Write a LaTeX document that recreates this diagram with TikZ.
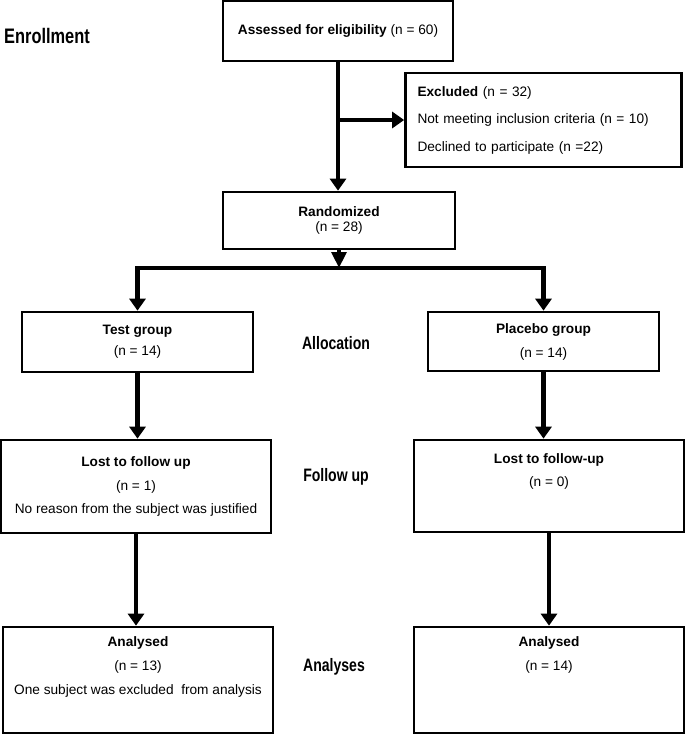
\documentclass[tikz,border=0pt]{standalone}
\usepackage{fontspec}
\setmainfont{Liberation Sans}
\newfontfamily\stagefont[FakeStretch=0.78]{Liberation Sans}
\usetikzlibrary{arrows.meta,positioning}
\begin{document}
\begin{tikzpicture}
  [x=0.75pt,y=-0.75pt,
   box/.style={draw,line width=2pt,rectangle,inner sep=0pt,align=center,
     minimum width=202.5pt,font=\fontsize{10.25}{17.6}\selectfont},
   txt/.style={inner sep=0pt,align=center,font=\fontsize{10.25}{18}\selectfont},
   stage/.style={inner sep=0pt,font=\stagefont\bfseries\fontsize{13.5}{16}\selectfont},
   flow/.style={line width=3.5pt,-{Triangle[width=12pt,length=9pt]}}]
  \useasboundingbox (0,0) rectangle (685,736);

  \node[stage,font=\stagefont\bfseries\fontsize{15.75}{18}\selectfont] (enrol) at (47,36) {Enrollment};
  \node[stage] (alloc) at (336,343) {Allocation};
  \node[stage] (follow) at (336,477) {Follow up};
  \node[stage] (analy) at (334,667) {Analyses};

  \node[box,minimum width=172.5pt,minimum height=45pt] (assess) at (338,31)
    {\textbf{Assessed for eligibility} (n = 60)};
  \node[box,align=left,text width=189pt,inner xsep=9pt,minimum height=70.5pt,
    font=\fontsize{10.25}{20.6}\selectfont] (excl) at (543.5,120)
    {\textbf{Excluded} (n = 32)\\ Not meeting inclusion criteria (n = 10)\\ Declined to participate (n =22)};
  \node[box,minimum width=174pt,minimum height=42.75pt,
    font=\fontsize{10.25}{11.5}\selectfont] (rand) at (339,220.5)
    {\textbf{Randomized}\\(n = 28)};

  \node[box,minimum width=173.25pt,minimum height=45pt,
    font=\fontsize{10.25}{15.75}\selectfont] (test) at (137.5,342)
    {\textbf{Test group}\\(n = 14)};
  \node[box,minimum width=173.25pt,minimum height=44.25pt,
    font=\fontsize{10.25}{18}\selectfont] (placebo) at (543.5,341.5)
    {\textbf{Placebo group}\\(n = 14)};

  \node[box,minimum height=69.75pt] (lostA) at (136,486.5)
    {\textbf{Lost to follow up}\\(n = 1)\\No reason from the subject was justified};
  \node[box,minimum height=69pt] (lostB) at (549,486) {};
  \node[txt,font=\fontsize{10.25}{17.25}\selectfont] (lostBt) at (549,471.5)
    {\textbf{Lost to follow-up}\\(n = 0)};

  \node[box,minimum height=79.5pt] (anaA) at (138,680) {};
  \node[txt] (anaAt) at (138,666.5)
    {\textbf{Analysed}\\(n = 13)\\One subject was excluded\ \ from analysis};
  \node[box,minimum height=79.5pt] (anaB) at (549,680) {};
  \node[txt] (anaBt) at (549,655) {\textbf{Analysed}\\(n = 14)};

  \coordinate (split) at (339,268);

  \draw[flow] (assess.south) -- (assess.south |- rand.north);
  \draw[flow] (assess.south |- excl.west) -- (excl.west);
  \draw[line width=3.5pt,-{Triangle[width=11pt,length=12pt]}] (rand.south) -- (split);
  \draw[flow] (split) -| (test.north);
  \draw[flow] (split) -| (placebo.north);

  \foreach \from/\to in {test/lostA,lostA/anaA,placebo/lostB,lostB/anaB}
    \draw[flow] (\from.south) -- (\from.south |- \to.north);

\end{tikzpicture}
\end{document}
